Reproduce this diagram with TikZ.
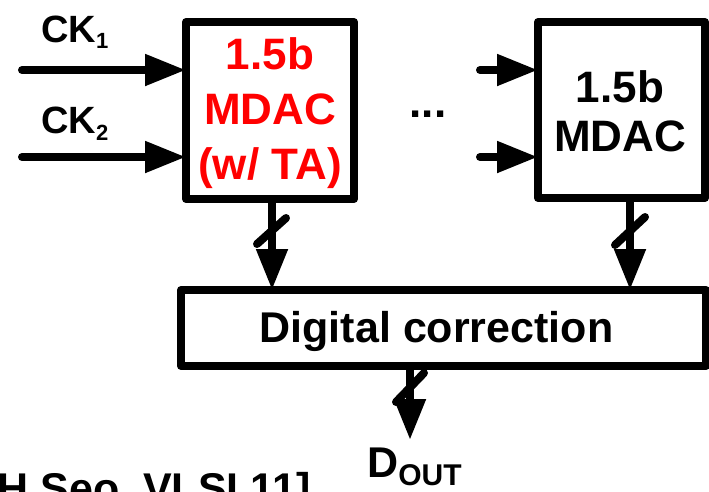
\documentclass[tikz,border=0pt]{standalone}
\usepackage{fontspec}
\setmainfont{Liberation Sans}
\usetikzlibrary{arrows.meta,calc}
\definecolor{mdacred}{RGB}{255,0,0}
\tikzset{
  blk/.style={draw=black,line width=8pt,line join=round,minimum width=#1,inner sep=0pt,outer sep=0pt},
  wire/.style={line width=8pt,line cap=round,-{Triangle[length=41pt,width=30pt]}},
  bus/.style={line width=8pt,line cap=round},
  bigtxt/.style={font=\fontsize{44}{55}\selectfont\bfseries,inner sep=0pt,align=center},
  cktxt/.style={font=\fontsize{38}{40}\selectfont\bfseries,inner sep=0pt,anchor=base west},
}
\newcommand{\mysub}[3]{\raisebox{-#2pt}{\fontsize{#1}{#1}\selectfont #3}}
\begin{document}
\begin{tikzpicture}[x=1pt,y=-1pt]
\useasboundingbox (0,0) rectangle (709,491);
% boxes
\node[blk=168pt,minimum height=177pt] (lb) at (270,110.5) {};
\node[blk=167pt,minimum height=176pt] (rb) at (621.5,110) {};
\node[blk=525pt,minimum height=76pt] (dc) at (443.5,328) {};
% texts
\node[bigtxt,text=mdacred] (lbt) at (270,113.5) {1.5b\\MDAC\\(w/ TA)};
\node[bigtxt,font=\fontsize{44}{49}\selectfont\bfseries] (rbt) at (620,111.5) {1.5b\\MDAC};
\node[bigtxt,font=\fontsize{43}{50}\selectfont\bfseries,anchor=base] (dct) at (436.5,342) {Digital correction};
\node[bigtxt,anchor=base] (dots) at (428,117) {...};
\node[cktxt] (ck1) at (41,42) {CK\mysub{22}{6}{1}};
\node[cktxt] (ck2) at (41,133) {CK\mysub{22}{7}{2}};
\node[font=\fontsize{43}{50}\selectfont\bfseries,inner sep=0pt,anchor=base west] (dout) at (367,477) {D\mysub{30}{8}{OUT}};
\node[font=\fontsize{43}{50}\selectfont\bfseries,inner sep=0pt,anchor=base west] (ref) at (-17,503) {[H.Seo, VLSI 11]};
% coordinates
\coordinate (ck1s) at (22,70);
\coordinate (ck2s) at (22,157);
\coordinate (r1s) at (480,70);
\coordinate (r2s) at (480,157);
\coordinate (xa) at (272,0);
\coordinate (xb) at (630,0);
\coordinate (xc) at (410,0);
\coordinate (doutend) at (410,440);
% input arrows
\draw[wire] (ck1s) -- (ck1s -| lb.west);
\draw[wire] (ck2s) -- (ck2s -| lb.west);
\draw[wire] (r1s) -- (r1s -| rb.west);
\draw[wire] (r2s) -- (r2s -| rb.west);
% down arrows
\draw[wire] (lb.south -| xa) -- (dc.north -| xa);
\draw[wire] (rb.south -| xb) -- (dc.north -| xb);
\draw[wire] (dc.south -| xc) -- (doutend);
% bus slashes
\draw[bus] (286,218) -- (257,244);
\draw[bus] (645,217) -- (615,245);
\draw[bus] (424,373) -- (396,402);
\end{tikzpicture}
\end{document}
